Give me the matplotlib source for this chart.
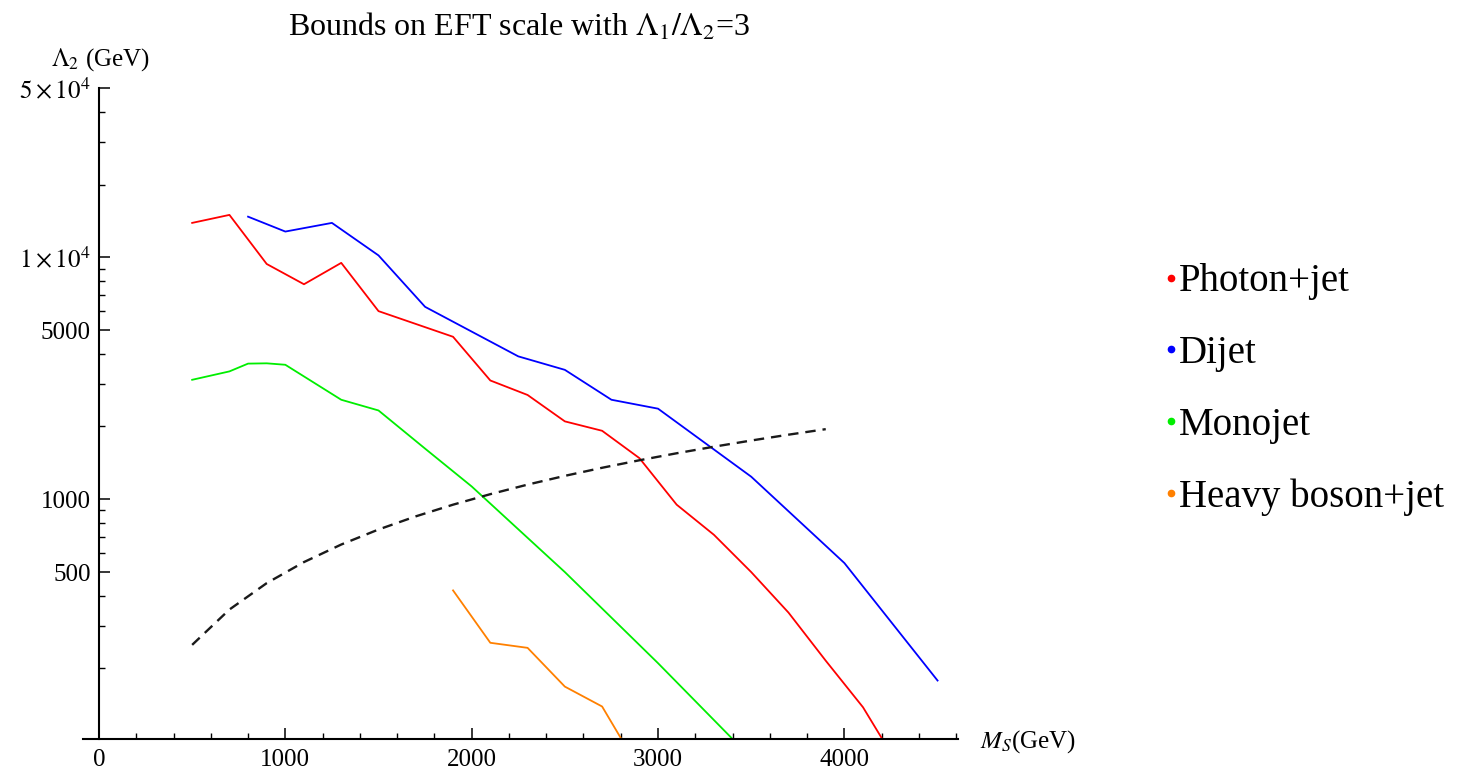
import matplotlib
matplotlib.use('Agg')
import matplotlib.pyplot as plt
from matplotlib.lines import Line2D
from matplotlib.ticker import FixedLocator, FixedFormatter, NullFormatter

# values (M_S in GeV, Lambda_2 in GeV)
ms_photon = [500, 700, 900, 1100, 1300, 1500, 1900, 2100, 2300, 2500, 2700,
             2900, 3100, 3300, 3500, 3700, 3900, 4100, 4200]
lam_photon = [13900, 15000, 9400, 7750, 9500, 6000, 4700, 3100, 2700, 2100,
              1920, 1480, 950, 713, 500, 340, 215, 138, 103]

ms_dijet = [800, 1000, 1250, 1500, 1750, 2250, 2500, 2750, 3000, 3500, 4000, 4500]
lam_dijet = [14750, 12800, 13900, 10200, 6250, 3900, 3430, 2580, 2370, 1240, 545, 178]

ms_mono = [500, 700, 800, 900, 1000, 1300, 1500, 1750, 2000, 2500, 3000, 3400]
lam_mono = [3120, 3380, 3640, 3650, 3600, 2580, 2330, 1620, 1130, 500, 210, 102]

ms_heavy = [1900, 2100, 2300, 2500, 2700, 2800]
lam_heavy = [420, 255, 243, 168, 139, 103]

# dashed reference line
ms_ref = [500, 700, 900, 1100, 1300, 1500, 1700, 1900, 2100, 2300, 2500,
          2700, 2900, 3100, 3300, 3500, 3700, 3900]
lam_ref = [250, 350, 450, 550, 650, 750, 850, 950, 1050, 1150, 1250,
           1350, 1450, 1550, 1650, 1750, 1850, 1950]

labels = ['Photon+jet', 'Dijet', 'Monojet', 'Heavy boson+jet']
colors = ['#ff0000', '#0000ff', '#00ee00', '#ff8000']

y_major = [500, 1000, 5000, 10000, 50000]
y_major_labels = ['500', '1000', '5000', r'$1\times10^4$', r'$5\times10^4$']
y_minor = [200, 300, 400, 600, 700, 800, 900, 2000, 3000, 4000,
           6000, 7000, 8000, 9000, 20000, 30000, 40000]
x_major = [0, 1000, 2000, 3000, 4000]
x_minor = [200, 400, 600, 800, 1200, 1400, 1600, 1800, 2200, 2400, 2600, 2800,
           3200, 3400, 3600, 3800, 4200, 4400, 4600]

plt.rcParams['font.family'] = ['Liberation Serif', 'DejaVu Serif']
plt.rcParams['mathtext.fontset'] = 'stix'
plt.rcParams['lines.scale_dashes'] = False

fig = plt.figure(figsize=(14.58, 7.74), dpi=100)
ax = fig.add_axes([0.0569, 0.0452, 0.6002, 0.8405])

series = [(ms_photon, lam_photon), (ms_dijet, lam_dijet),
          (ms_mono, lam_mono), (ms_heavy, lam_heavy)]
for (xs, ys), c in zip(series, colors):
    ax.plot(xs, ys, color=c, lw=1.3, solid_joinstyle='round')

ax.plot(ms_ref, lam_ref, color='#1a1a1a', lw=1.7, dashes=(7.5, 5))

ax.set_yscale('log')
ax.set_xlim(-86, 4610)
ax.set_ylim(102, 50000)

ax.spines['top'].set_visible(False)
ax.spines['right'].set_visible(False)
ax.spines['left'].set_position(('data', 0))
ax.spines['left'].set_linewidth(1.5)
ax.spines['bottom'].set_linewidth(1.5)

ax.yaxis.set_major_locator(FixedLocator(y_major))
ax.yaxis.set_major_formatter(FixedFormatter(y_major_labels))
ax.yaxis.set_minor_locator(FixedLocator(y_minor))
ax.yaxis.set_minor_formatter(NullFormatter())
ax.xaxis.set_major_locator(FixedLocator(x_major))
ax.xaxis.set_minor_locator(FixedLocator(x_minor))

ax.tick_params(which='major', direction='in', length=8, width=1.1, labelsize=18, pad=6)
ax.tick_params(which='minor', direction='in', length=4, width=1.0)
ax.tick_params(axis='x', which='major', pad=7)

fig.text(519 / 1458, 1 - 27 / 774, r'Bounds on EFT scale with $\Lambda_1/\Lambda_2$=3',
         ha='center', va='center', fontsize=23)
fig.text(100 / 1458, 1 - 60 / 774, r'$\Lambda_2$ (GeV)', ha='center', va='center', fontsize=18)
fig.text(980 / 1458, 1 - 742 / 774, r'$M_S$(GeV)', ha='left', va='center', fontsize=18)

handles = [Line2D([], [], ls='none', marker='o', ms=4.5, color=c) for c in colors]
ax.legend(handles, labels, loc='upper left', bbox_to_anchor=(1146 / 1458, 1 - 244 / 774),
          bbox_transform=fig.transFigure, frameon=False, fontsize=28,
          handlelength=0.3, handletextpad=0.05, labelspacing=0.89, borderpad=0)

fig.savefig('out.png', dpi=100)
